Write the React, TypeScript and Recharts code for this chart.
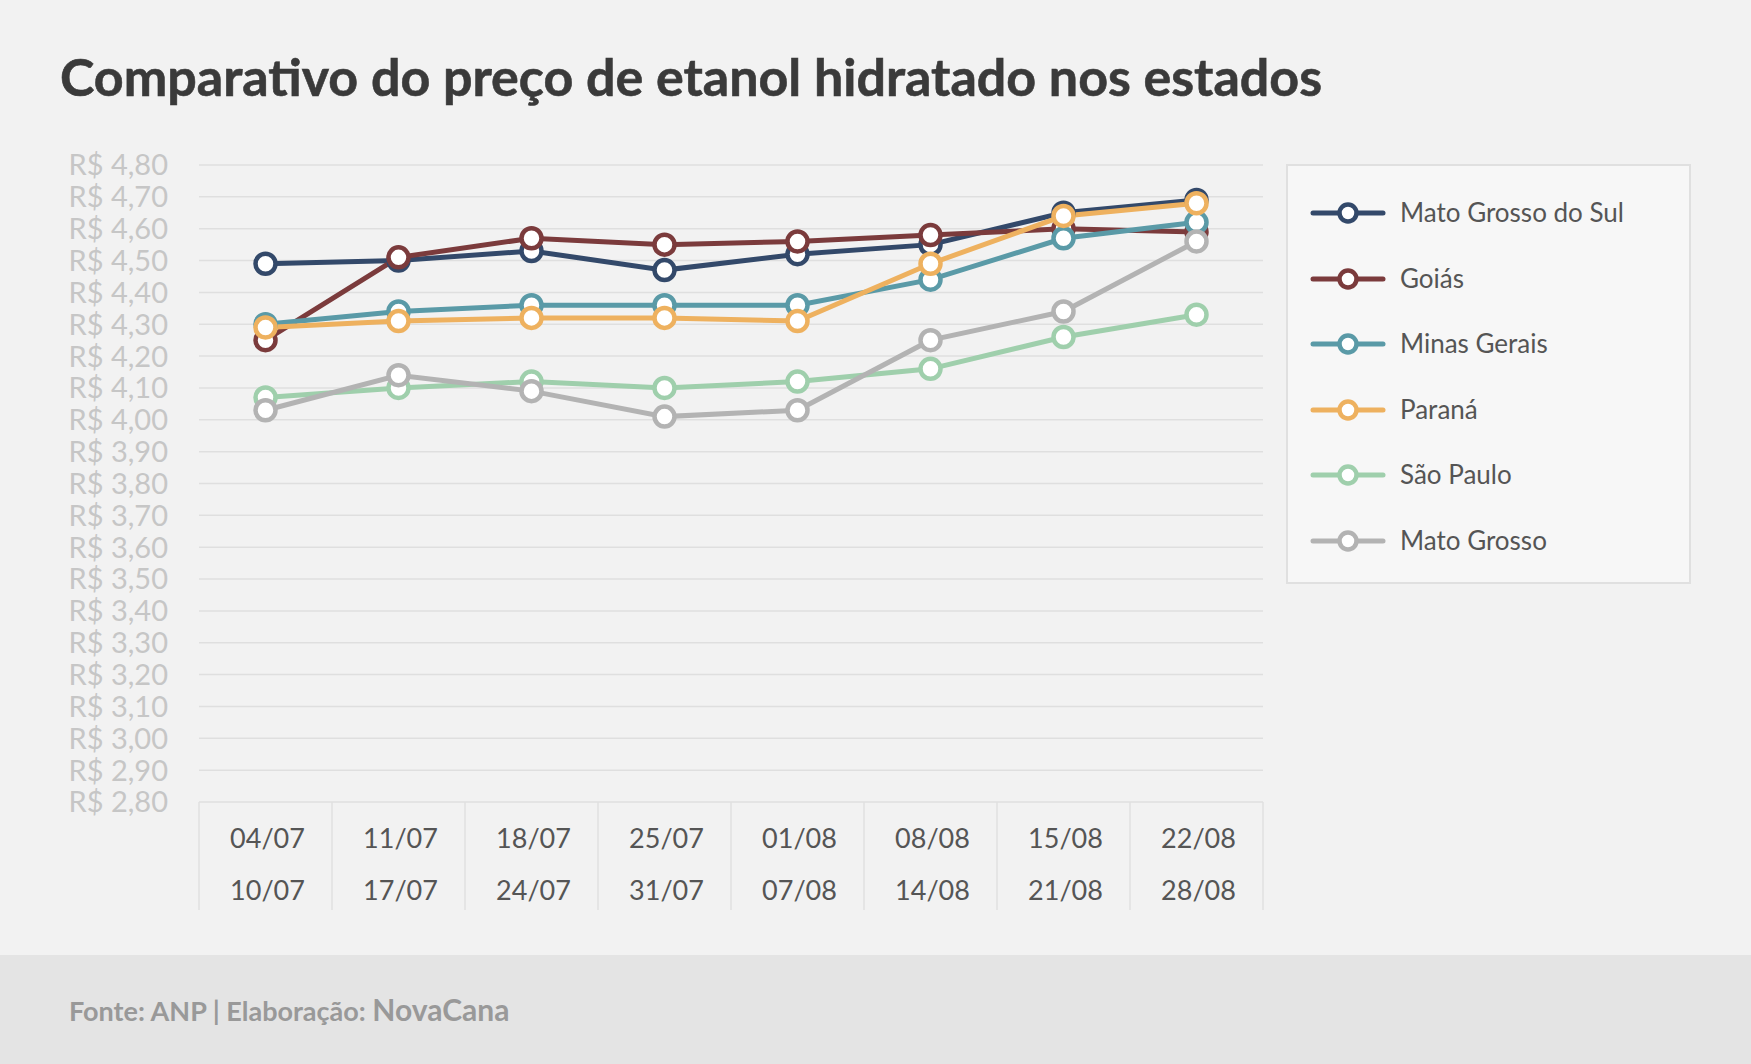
import React from 'react';
import { LineChart, Line, XAxis, YAxis, CartesianGrid } from 'recharts';

// Weekly periods (start / end of each week)
const PERIOD_START = ['04/07', '11/07', '18/07', '25/07', '01/08', '08/08', '15/08', '22/08'];
const PERIOD_END = ['10/07', '17/07', '24/07', '31/07', '07/08', '14/08', '21/08', '28/08'];

// Average hydrated ethanol price per state (R$/litro)
const MATO_GROSSO_DO_SUL = [4.49, 4.5, 4.53, 4.47, 4.52, 4.55, 4.65, 4.69];
const GOIAS = [4.25, 4.51, 4.57, 4.55, 4.56, 4.58, 4.6, 4.59];
const MINAS_GERAIS = [4.3, 4.34, 4.36, 4.36, 4.36, 4.44, 4.57, 4.62];
const PARANA = [4.29, 4.31, 4.32, 4.32, 4.31, 4.49, 4.64, 4.68];
const SAO_PAULO = [4.07, 4.1, 4.12, 4.1, 4.12, 4.16, 4.26, 4.33];
const MATO_GROSSO = [4.03, 4.14, 4.09, 4.01, 4.03, 4.25, 4.34, 4.56];

const Y_TICKS = [
  2.8, 2.9, 3.0, 3.1, 3.2, 3.3, 3.4, 3.5, 3.6, 3.7, 3.8,
  3.9, 4.0, 4.1, 4.2, 4.3, 4.4, 4.5, 4.6, 4.7, 4.8,
];

const SERIES = [
  { key: 'ms', name: 'Mato Grosso do Sul', color: '#33496a', values: MATO_GROSSO_DO_SUL },
  { key: 'go', name: 'Goiás', color: '#7b3b3c', values: GOIAS },
  { key: 'mg', name: 'Minas Gerais', color: '#5a9aa7', values: MINAS_GERAIS },
  { key: 'pr', name: 'Paraná', color: '#eeb15f', values: PARANA },
  { key: 'sp', name: 'São Paulo', color: '#9fcfac', values: SAO_PAULO },
  { key: 'mt', name: 'Mato Grosso', color: '#b3b3b3', values: MATO_GROSSO },
];

const data = PERIOD_START.map((start, i) => {
  const row: Record<string, string | number> = { start, end: PERIOD_END[i] };
  SERIES.forEach((s) => {
    row[s.key] = s.values[i];
  });
  return row;
});

const FONT = 'Lato, "Open Sans", sans-serif';
const PLOT_BOTTOM = 802;
const BAND = 133;

const formatPrice = (v: number) => `R$ ${v.toFixed(2).replace('.', ',')}`;

const YTick = (props: any) => {
  const { y, payload } = props;
  return (
    <text x={168} y={y} dy="0.36em" textAnchor="end" fill="#c6c6c6" fontSize={29} fontFamily={FONT}>
      {formatPrice(payload.value)}
    </text>
  );
};

const XTick = (props: any) => {
  const { x, payload, index } = props;
  const last = index === PERIOD_START.length - 1;
  return (
    <g>
      <line x1={x - BAND / 2} x2={x - BAND / 2} y1={PLOT_BOTTOM} y2={910} stroke="#e0e0e0" strokeWidth={1.5} />
      {last && (
        <line x1={x + BAND / 2} x2={x + BAND / 2} y1={PLOT_BOTTOM} y2={910} stroke="#e0e0e0" strokeWidth={1.5} />
      )}
      <text x={x + 2} y={848} textAnchor="middle" fill="#555" fontSize={27} fontFamily={FONT}>
        {payload.value}
      </text>
      <text x={x + 2} y={900} textAnchor="middle" fill="#555" fontSize={27} fontFamily={FONT}>
        {PERIOD_END[index]}
      </text>
    </g>
  );
};

const LegendBox = () => (
  <div
    style={{
      position: 'absolute',
      left: 1286,
      top: 164,
      width: 401,
      height: 416,
      background: '#f7f7f7',
      border: '2px solid #e0e0e0',
    }}
  >
    {SERIES.map((s, i) => (
      <div key={s.key} style={{ position: 'absolute', left: 0, top: 27 + i * 65.6, height: 40, width: 400 }}>
        <svg width={100} height={40} style={{ position: 'absolute', left: 0, top: 0 }}>
          <line x1={25} x2={95} y1={20} y2={20} stroke={s.color} strokeWidth={5} strokeLinecap="round" />
          <circle cx={60} cy={20} r={8.5} fill="#fff" stroke={s.color} strokeWidth={4.5} />
        </svg>
        <span
          style={{
            position: 'absolute',
            left: 112,
            top: 3,
            fontFamily: FONT,
            fontSize: 26,
            color: '#555',
            whiteSpace: 'nowrap',
          }}
        >
          {s.name}
        </span>
      </div>
    ))}
  </div>
);

export default function App() {
  return (
    <div
      style={{
        position: 'absolute',
        left: 0,
        top: 0,
        width: 1751,
        height: 1064,
        background: '#f2f2f2',
        overflow: 'hidden',
        fontFamily: FONT,
      }}
    >
      <div
        style={{
          position: 'absolute',
          left: 60,
          top: 45,
          fontSize: 52,
          fontWeight: 700,
          color: '#3a3a3a',
          whiteSpace: 'nowrap',
          WebkitTextStroke: '0.6px #3a3a3a',
        }}
      >
        Comparativo do preço de etanol hidratado nos estados
      </div>

      <div style={{ position: 'absolute', left: 0, top: 0 }}>
        <LineChart
          width={1280}
          height={930}
          data={data}
          margin={{ top: 165, right: 17, bottom: 20, left: 0 }}
        >
          <CartesianGrid vertical={false} stroke="#dfdfdf" strokeWidth={1.5} />
          <XAxis
            dataKey="start"
            height={108}
            padding={{ left: BAND / 2, right: BAND / 2 }}
            axisLine={false}
            tickLine={false}
            interval={0}
            tick={<XTick />}
          />
          <YAxis
            width={199}
            domain={[2.8, 4.8]}
            ticks={Y_TICKS}
            interval={0}
            axisLine={false}
            tickLine={false}
            tick={<YTick />}
          />
          {SERIES.map((s) => (
            <Line
              key={s.key}
              dataKey={s.key}
              name={s.name}
              type="linear"
              stroke={s.color}
              strokeWidth={5}
              dot={{ r: 10, fill: '#fff', stroke: s.color, strokeWidth: 4.5 }}
              activeDot={false}
              isAnimationActive={false}
            />
          ))}
        </LineChart>
      </div>

      <LegendBox />

      <div
        style={{
          position: 'absolute',
          left: 0,
          top: 955,
          width: 1751,
          height: 109,
          background: '#e4e4e4',
        }}
      >
        <div style={{ position: 'absolute', left: 69, top: 36, whiteSpace: 'nowrap', color: '#999' }}>
          <span style={{ fontSize: 27, fontWeight: 700 }}>Fonte: ANP | Elaboração: </span>
          <span style={{ fontSize: 30, fontWeight: 700 }}>NovaCana</span>
        </div>
      </div>
    </div>
  );
}
